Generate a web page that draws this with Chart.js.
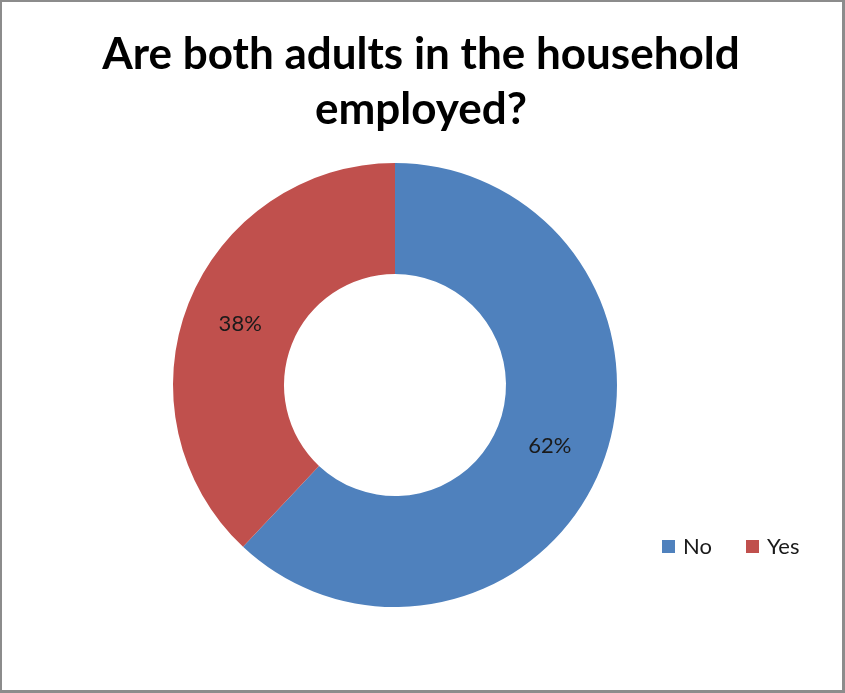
<!DOCTYPE html>
<html>
<head>
<meta charset="utf-8">
<title>Are both adults in the household employed?</title>
<script src="https://cdn.jsdelivr.net/npm/chart.js@4.4.1/dist/chart.umd.min.js"></script>
<style>
  html, body { margin: 0; padding: 0; background: #fff; }
  #wrap { width: 845px; height: 693px; }
</style>
</head>
<body>
<div id="wrap"><canvas id="employedChart" width="845" height="693"></canvas></div>
<script>
// Survey answers
const answers = ['No', 'Yes'];
const shares = [62, 38];
const sliceColors = ['#4F81BD', '#C0504D'];
const titleLines = ['Are both adults in the household', 'employed?'];

const labelFont = '22px Lato, "Liberation Sans", sans-serif';

// Title, percent labels, legend and frame drawn on the canvas
const decorations = {
    id: 'decorations',
    afterDraw(chart) {
        const ctx = chart.ctx;
        const w = chart.width, h = chart.height;
        ctx.save();

        // title
        ctx.fillStyle = '#000';
        ctx.textAlign = 'center';
        ctx.textBaseline = 'middle';
        ctx.font = 'bold 44px Lato, "Liberation Sans", sans-serif';
        titleLines.forEach((line, i) => ctx.fillText(line, 421, 55 + i * 55));

        // percent labels in the middle of each ring segment
        ctx.font = labelFont;
        ctx.fillStyle = '#1a1a1a';
        chart.getDatasetMeta(0).data.forEach((arc, i) => {
            const p = arc.getCenterPoint();
            ctx.fillText(shares[i] + '%', p.x, p.y);
        });

        // legend
        const legendX = [662, 746];
        ctx.textAlign = 'left';
        answers.forEach((name, i) => {
            ctx.fillStyle = sliceColors[i];
            ctx.fillRect(legendX[i], 540, 13, 13);
            ctx.fillStyle = '#1a1a1a';
            ctx.fillText(name, legendX[i] + 21, 547);
        });

        // frame
        ctx.fillStyle = '#8c8c8c';
        ctx.fillRect(0, 0, w, 2);
        ctx.fillRect(0, 0, 2, h);
        ctx.fillRect(w - 3, 0, 3, h);
        ctx.fillRect(0, h - 3, w, 3);
        ctx.restore();
    }
};

new Chart(document.getElementById('employedChart'), {
    type: 'doughnut',
    data: {
        labels: answers,
        datasets: [{
            data: shares,
            backgroundColor: sliceColors,
            borderWidth: 0,
            hoverOffset: 0
        }]
    },
    options: {
        responsive: false,
        animation: false,
        cutout: '50%',
        layout: { padding: { top: 163, left: 173, right: 228, bottom: 86 } },
        plugins: {
            legend: { display: false },
            title: { display: false },
            tooltip: { enabled: false }
        }
    },
    plugins: [decorations]
});
</script>
</body>
</html>
